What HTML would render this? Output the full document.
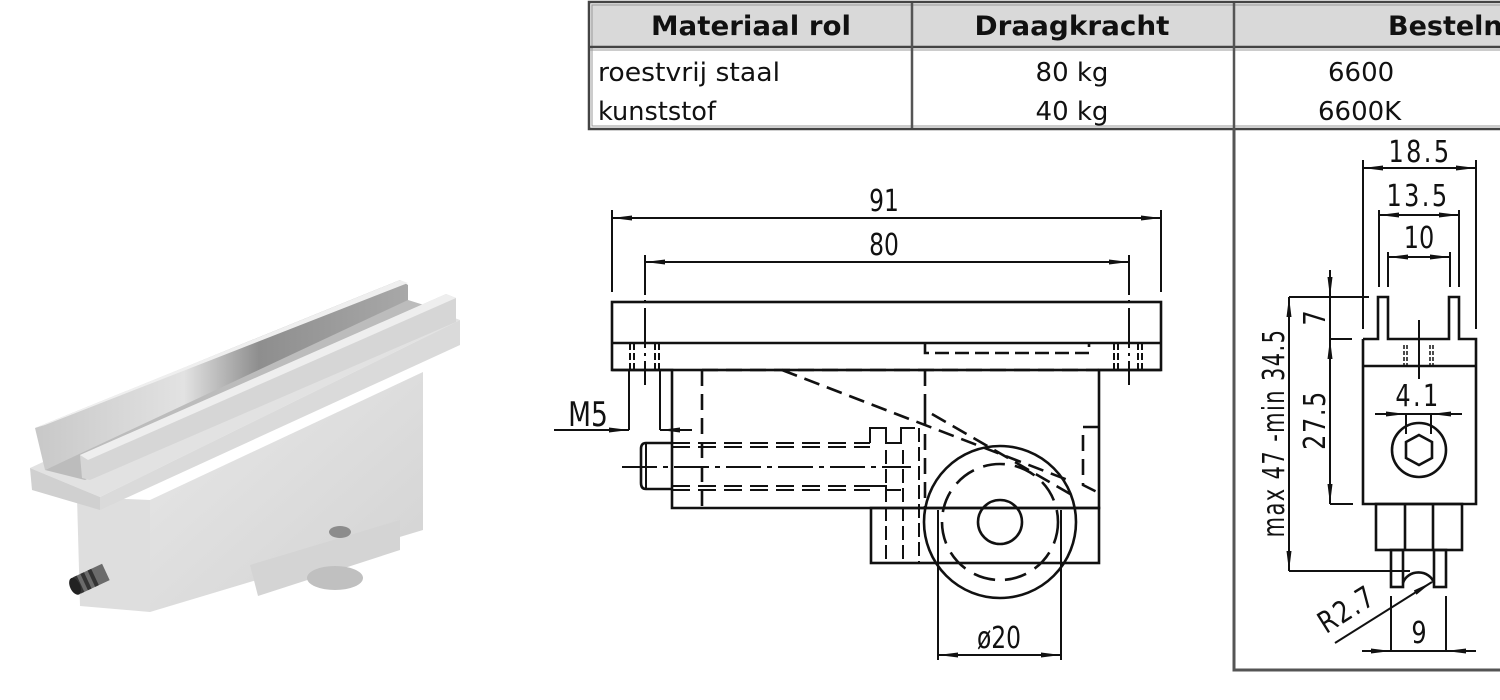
<!DOCTYPE html>
<html><head><meta charset="utf-8"><style>
html,body{margin:0;padding:0;background:#fff;width:1500px;height:700px;overflow:hidden}
svg{display:block}
.t{font-family:"DejaVu Sans","Liberation Sans",sans-serif}
.d{font-family:"DejaVu Sans","Liberation Sans",sans-serif;font-size:30px;fill:#111}
</style></head><body>
<svg width="1500" height="700" viewBox="0 0 1500 700" xmlns="http://www.w3.org/2000/svg">
<defs>
<marker id="a" viewBox="0 0 20 6" refX="20" refY="3" markerWidth="20" markerHeight="6" markerUnits="userSpaceOnUse" orient="auto-start-reverse">
<path d="M0,0.5 L20,3 L0,5.5 Z" fill="#111"/></marker>
<linearGradient id="g1" x1="0" y1="0" x2="1" y2="1"><stop offset="0" stop-color="#e8e8e8"/><stop offset="1" stop-color="#d2d2d2"/></linearGradient>
<linearGradient id="g2" x1="0" y1="0" x2="1" y2="0"><stop offset="0" stop-color="#c8c8c8"/><stop offset="0.4" stop-color="#e2e2e2"/><stop offset="0.6" stop-color="#8e8e8e"/><stop offset="1" stop-color="#a8a8a8"/></linearGradient>
</defs>

<!-- PHOTO -->
<g>
<polygon points="150,500 423,372 423,530 150,612" fill="url(#g1)"/>
<polygon points="77,497 150,500 150,612 80,606" fill="#dedede"/>
<polygon points="250,565 400,520 400,550 258,596" fill="#d4d4d4"/>
<ellipse cx="335" cy="578" rx="28" ry="12" fill="#c0c0c0"/>
<ellipse cx="340" cy="532" rx="11" ry="6" fill="#8c8c8c"/>
<polygon points="30,468 400,298 460,320 100,497" fill="#e2e2e2"/>
<polygon points="30,468 100,497 100,510 32,490" fill="#d0d0d0"/>
<polygon points="100,497 460,320 460,345 100,510" fill="#dadada"/>
<polygon points="35,428 400,280 408,285 408,302 45,470" fill="url(#g2)"/>
<polygon points="45,470 408,300 440,310 85,480" fill="#bcbcbc"/>
<polygon points="35,428 45,425 408,283 400,280" fill="#efefef"/>
<polygon points="80,455 446,294 456,298 456,322 90,480 82,478" fill="#d6d6d6"/>
<polygon points="80,455 446,294 456,298 88,460" fill="#eeeeee"/>
<g transform="translate(95,577) rotate(-25)">
<rect x="-22" y="-9" width="34" height="18" fill="#6b6b6b"/>
<rect x="-20" y="-9" width="4" height="18" fill="#333"/><rect x="-12" y="-9" width="4" height="18" fill="#333"/><rect x="-4" y="-9" width="4" height="18" fill="#333"/>
<ellipse cx="-22" cy="0" rx="5" ry="9" fill="#222"/></g>
</g>

<!-- TABLE -->
<g class="t">
<rect x="591" y="4" width="930" height="43" fill="#d9d9d9"/>
<rect x="589" y="2" width="940" height="127" fill="none" stroke="#444" stroke-width="2.5"/>
<rect x="592" y="5" width="940" height="121" fill="none" stroke="#999" stroke-width="1"/>
<line x1="590" y1="47" x2="1500" y2="47" stroke="#444" stroke-width="2.5"/>
<line x1="590" y1="50" x2="1500" y2="50" stroke="#999" stroke-width="1"/>
<line x1="912" y1="3" x2="912" y2="128" stroke="#555" stroke-width="2.5"/>
<line x1="1234" y1="3" x2="1234" y2="128" stroke="#555" stroke-width="2.5"/>
<text x="751" y="35" text-anchor="middle" font-weight="bold" font-size="27" fill="#111" textLength="200" lengthAdjust="spacingAndGlyphs">Materiaal rol</text>
<text x="1072" y="35" text-anchor="middle" font-weight="bold" font-size="27" fill="#111" textLength="195" lengthAdjust="spacingAndGlyphs">Draagkracht</text>
<text x="1388" y="35" font-weight="bold" font-size="27" fill="#111">Besteln</text>
<text x="598" y="81" font-size="26" fill="#111" textLength="182" lengthAdjust="spacingAndGlyphs">roestvrij staal</text>
<text x="598" y="120" font-size="26" fill="#111" textLength="118" lengthAdjust="spacingAndGlyphs">kunststof</text>
<text x="1072" y="81" text-anchor="middle" font-size="26" fill="#111">80 kg</text>
<text x="1072" y="120" text-anchor="middle" font-size="26" fill="#111">40 kg</text>
<text x="1328" y="81" font-size="26" fill="#111">6600</text>
<text x="1318" y="120" font-size="26" fill="#111">6600K</text>
</g>

<!-- RIGHT FRAME -->
<polyline points="1234,128 1234,670 1500,670" fill="none" stroke="#555" stroke-width="3"/>

<!-- FRONT VIEW -->
<g stroke="#111" fill="none" stroke-width="2.6">
<line x1="612" y1="210" x2="612" y2="292" stroke-width="2"/>
<line x1="1161" y1="210" x2="1161" y2="292" stroke-width="2"/>
<line x1="612" y1="218" x2="1161" y2="218" stroke-width="2" marker-start="url(#a)" marker-end="url(#a)"/>
<line x1="645" y1="262" x2="1129" y2="262" stroke-width="2" marker-start="url(#a)" marker-end="url(#a)"/>
<line x1="645" y1="255" x2="645" y2="385" stroke-width="2" stroke-dasharray="40 5 3 5"/>
<line x1="1129" y1="255" x2="1129" y2="385" stroke-width="2" stroke-dasharray="40 5 3 5"/>
<rect x="612" y="302" width="549" height="68"/>
<line x1="612" y1="343" x2="1161" y2="343"/>
<polyline points="612,370 672,370 672,508 1099,508 1099,370 1161,370"/>
<polyline points="925,343 925,353 1089,353 1089,343" stroke-dasharray="14 6"/>
<g stroke-width="2" stroke-dasharray="7 3">
<line x1="630" y1="343" x2="630" y2="370"/><line x1="634" y1="343" x2="634" y2="370"/>
<line x1="655" y1="343" x2="655" y2="370"/><line x1="659" y1="343" x2="659" y2="370"/>
<line x1="1114" y1="343" x2="1114" y2="370"/><line x1="1118" y1="343" x2="1118" y2="370"/>
<line x1="1138" y1="343" x2="1138" y2="370"/><line x1="1142" y1="343" x2="1142" y2="370"/>
</g>
<line x1="629" y1="370" x2="629" y2="430" stroke-width="2"/>
<line x1="660" y1="370" x2="660" y2="430" stroke-width="2"/>
<line x1="554" y1="430" x2="629" y2="430" stroke-width="2" marker-end="url(#a)"/>
<line x1="692" y1="430" x2="660" y2="430" stroke-width="2" marker-end="url(#a)"/>
<g stroke-dasharray="16 8">
<line x1="702" y1="370" x2="1099" y2="370"/>
<line x1="702" y1="370" x2="702" y2="508"/>
<line x1="782" y1="370" x2="1073" y2="482"/>
<polyline points="925,370 925,410 1072,495"/>
<line x1="925" y1="410" x2="925" y2="508"/>
<polyline points="1099,427 1083,427 1083,485 1099,493"/>
</g>
<path d="M672,443 L646,443 Q641,443 641,449 L641,483 Q641,489 646,489 L672,489" />
<line x1="646" y1="443" x2="646" y2="489" stroke-width="2"/>
<g stroke-width="2" stroke-dasharray="18 8">
<line x1="672" y1="443" x2="870" y2="443"/><line x1="672" y1="447" x2="870" y2="447"/>
<line x1="672" y1="486" x2="870" y2="486"/><line x1="672" y1="490" x2="870" y2="490"/>
</g>
<line x1="622" y1="467" x2="911" y2="467" stroke-width="2" stroke-dasharray="35 6 5 6"/>
<polyline points="870,443 870,428 886,428 886,443 901,443 901,428 915,428" stroke-width="2"/>
<polyline points="870,486 886,486 886,490 901,490" stroke-width="2"/>
<g stroke-width="2" stroke-dasharray="14 5">
<line x1="886" y1="450" x2="886" y2="563"/><line x1="903" y1="450" x2="903" y2="563"/><line x1="919" y1="428" x2="919" y2="563"/>
</g>
<rect x="871" y="508" width="228" height="55"/>
<circle cx="1000" cy="522" r="76"/>
<circle cx="1000" cy="522" r="58" stroke-dasharray="22 10"/>
<circle cx="1000" cy="522" r="22"/>
<line x1="938" y1="510" x2="938" y2="660" stroke-width="2"/>
<line x1="1061" y1="510" x2="1061" y2="660" stroke-width="2"/>
<line x1="938" y1="655" x2="1061" y2="655" stroke-width="2" marker-start="url(#a)" marker-end="url(#a)"/>
</g>
<g class="d" text-anchor="middle">
<text x="884" y="211" transform="translate(884 0) scale(0.78 1) translate(-884 0)">91</text>
<text x="884" y="255" transform="translate(884 0) scale(0.78 1) translate(-884 0)">80</text>
<text x="588" y="426" font-size="34" transform="translate(588 0) scale(0.78 1) translate(-588 0)">M5</text>
<text x="999" y="648" transform="translate(999 0) scale(0.78 1) translate(-999 0)">ø20</text>
</g>

<!-- SIDE VIEW -->
<g stroke="#111" fill="none" stroke-width="2.6">
<line x1="1363" y1="160" x2="1363" y2="329" stroke-width="2"/>
<line x1="1476" y1="160" x2="1476" y2="329" stroke-width="2"/>
<line x1="1363" y1="168" x2="1476" y2="168" stroke-width="2" marker-start="url(#a)" marker-end="url(#a)"/>
<line x1="1379" y1="210" x2="1379" y2="287" stroke-width="2"/>
<line x1="1459" y1="210" x2="1459" y2="287" stroke-width="2"/>
<line x1="1379" y1="215" x2="1459" y2="215" stroke-width="2" marker-start="url(#a)" marker-end="url(#a)"/>
<line x1="1388" y1="252" x2="1388" y2="287" stroke-width="2"/>
<line x1="1450" y1="252" x2="1450" y2="287" stroke-width="2"/>
<line x1="1388" y1="257" x2="1450" y2="257" stroke-width="2" marker-start="url(#a)" marker-end="url(#a)"/>
<polyline points="1363,339 1378,339 1378,297 1388,297 1388,339 1449,339 1449,297 1459,297 1459,339 1476,339 1476,504 1363,504 1363,339"/>
<line x1="1363" y1="366" x2="1476" y2="366"/>
<line x1="1419" y1="320" x2="1419" y2="379" stroke-width="2"/>
<g stroke-width="1.5" stroke-dasharray="4 2">
<line x1="1404" y1="345" x2="1404" y2="366"/><line x1="1407" y1="345" x2="1407" y2="366"/>
<line x1="1430" y1="345" x2="1430" y2="366"/><line x1="1433" y1="345" x2="1433" y2="366"/>
</g>
<line x1="1375" y1="414" x2="1462" y2="414" stroke-width="2"/>
<line x1="1406" y1="414" x2="1406" y2="434" stroke-width="2"/>
<line x1="1431" y1="414" x2="1431" y2="434" stroke-width="2"/>
<line x1="1380" y1="414" x2="1406" y2="414" stroke-width="2" marker-end="url(#a)"/>
<line x1="1458" y1="414" x2="1431" y2="414" stroke-width="2" marker-end="url(#a)"/>
<circle cx="1419" cy="450" r="27"/>
<polygon points="1419,435 1432,442 1432,458 1419,465 1406,458 1406,442"/>
<rect x="1376" y="504" width="86" height="46"/>
<line x1="1405" y1="504" x2="1405" y2="550"/><line x1="1433" y1="504" x2="1433" y2="550"/>
<rect x="1391" y="550" width="12" height="37"/><rect x="1434" y="550" width="12" height="37"/>
<path d="M1403,583 A16,14 0 0 1 1434,583"/>
<line x1="1289" y1="297" x2="1369" y2="297" stroke-width="2"/>
<line x1="1289" y1="571" x2="1410" y2="571" stroke-width="2"/>
<line x1="1289" y1="297" x2="1289" y2="571" stroke-width="2" marker-start="url(#a)" marker-end="url(#a)"/>
<line x1="1330" y1="270" x2="1330" y2="297" stroke-width="2" marker-end="url(#a)"/>
<line x1="1330" y1="297" x2="1330" y2="339" stroke-width="2"/>
<line x1="1330" y1="339" x2="1352" y2="339" stroke-width="2"/>
<line x1="1330" y1="504" x2="1353" y2="504" stroke-width="2"/>
<line x1="1330" y1="339" x2="1330" y2="504" stroke-width="2" marker-start="url(#a)" marker-end="url(#a)"/>
<line x1="1335" y1="643" x2="1432" y2="582" stroke-width="2" marker-end="url(#a)"/>
<line x1="1391" y1="596" x2="1391" y2="651" stroke-width="2"/>
<line x1="1446" y1="596" x2="1446" y2="651" stroke-width="2"/>
<line x1="1362" y1="651" x2="1391" y2="651" stroke-width="2" marker-end="url(#a)"/>
<line x1="1476" y1="651" x2="1446" y2="651" stroke-width="2" marker-end="url(#a)"/>
<line x1="1391" y1="651" x2="1446" y2="651" stroke-width="2"/>
</g>
<g class="d" text-anchor="middle">
<text x="1420" y="162" transform="translate(1420 0) scale(0.8 1) translate(-1420 0)" letter-spacing="3">18.5</text>
<text x="1418" y="206" transform="translate(1418 0) scale(0.8 1) translate(-1418 0)" letter-spacing="3">13.5</text>
<text x="1419" y="248" transform="translate(1419 0) scale(0.8 1) translate(-1419 0)">10</text>
<text x="1418" y="406" transform="translate(1418 0) scale(0.8 1) translate(-1418 0)" letter-spacing="3">4.1</text>
<text x="1419" y="643" transform="translate(1419 0) scale(0.8 1) translate(-1419 0)">9</text>
<text transform="translate(1325 318) rotate(-90) scale(0.8 1)" x="0" y="0">7</text>
<text transform="translate(1325 420) rotate(-90) scale(0.8 1)" x="0" y="0" letter-spacing="2">27.5</text>
<text transform="translate(1284 433) rotate(-90) scale(0.7 1)" x="0" y="0" letter-spacing="2">max 47 -min 34.5</text>
<text transform="translate(1352 618) rotate(-32) scale(0.8 1)" x="0" y="0" letter-spacing="2">R2.7</text>
</g>
</svg>
</body></html>
